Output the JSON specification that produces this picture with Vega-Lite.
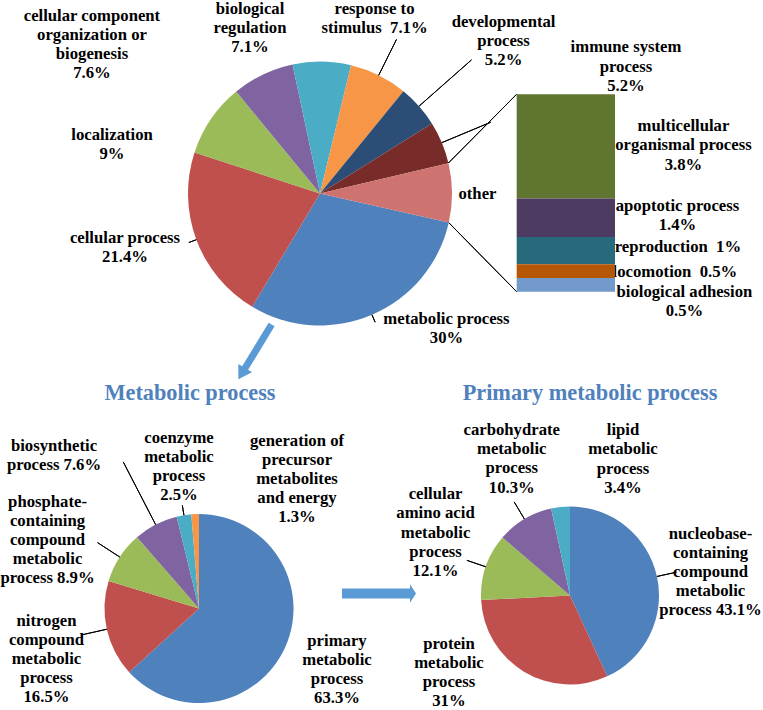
{
  "$schema": "https://vega.github.io/schema/vega-lite/v6.json",
  "padding": 0,
  "background": "white",
  "config": {
    "view": {"stroke": null},
    "text": {"font": "Liberation Serif", "fontWeight": "bold", "fontSize": 16.7, "lineHeight": 19.1, "lineBreak": "\n", "color": "#000", "align": "center", "baseline": "middle"}
  },
  "datasets": {
    "top": [
      {"i": 1, "cat": "metabolic process", "value": 30, "label": "metabolic process\n30%"},
      {"i": 2, "cat": "cellular process", "value": 21.4, "label": "cellular process\n21.4%"},
      {"i": 3, "cat": "localization", "value": 9, "label": "localization\n9%"},
      {"i": 4, "cat": "cellular component organization or biogenesis", "value": 7.6, "label": "cellular component\norganization or\nbiogenesis\n7.6%"},
      {"i": 5, "cat": "biological regulation", "value": 7.1, "label": "biological\nregulation\n7.1%"},
      {"i": 6, "cat": "response to stimulus", "value": 7.1, "label": "response to\nstimulus \u00a07.1%"},
      {"i": 7, "cat": "developmental process", "value": 5.2, "label": "developmental\nprocess\n5.2%"},
      {"i": 8, "cat": "immune system process", "value": 5.2, "label": "immune system\nprocess\n5.2%"},
      {"i": 9, "cat": "other", "value": 7.2, "label": "other"}
    ],
    "other": [
      {"i": 1, "cat": "multicellular organismal process", "value": 3.8, "label": "multicellular\norganismal process\n3.8%"},
      {"i": 2, "cat": "apoptotic process", "value": 1.4, "label": "apoptotic process\n1.4%"},
      {"i": 3, "cat": "reproduction", "value": 1, "label": "reproduction \u00a01%"},
      {"i": 4, "cat": "locomotion", "value": 0.5, "label": "locomotion \u00a00.5%"},
      {"i": 5, "cat": "biological adhesion", "value": 0.5, "label": "biological adhesion\n0.5%"}
    ],
    "bl": [
      {"i": 1, "cat": "primary metabolic process", "value": 63.3, "label": "primary\nmetabolic\nprocess\n63.3%"},
      {"i": 2, "cat": "nitrogen compound metabolic process", "value": 16.5, "label": "nitrogen\ncompound\nmetabolic\nprocess\n16.5%"},
      {"i": 3, "cat": "phosphate-containing compound metabolic process", "value": 8.9, "label": "phosphate-\ncontaining\ncompound\nmetabolic\nprocess 8.9%"},
      {"i": 4, "cat": "biosynthetic process", "value": 7.6, "label": "biosynthetic\nprocess 7.6%"},
      {"i": 5, "cat": "coenzyme metabolic process", "value": 2.5, "label": "coenzyme\nmetabolic\nprocess\n2.5%"},
      {"i": 6, "cat": "generation of precursor metabolites and energy", "value": 1.3, "label": "generation of\nprecursor\nmetabolites\nand energy\n1.3%"}
    ],
    "br": [
      {"i": 1, "cat": "nucleobase-containing compound metabolic process", "value": 43.1, "label": "nucleobase-\ncontaining\ncompound\nmetabolic\nprocess 43.1%"},
      {"i": 2, "cat": "protein metabolic process", "value": 31, "label": "protein\nmetabolic\nprocess\n31%"},
      {"i": 3, "cat": "cellular amino acid metabolic process", "value": 12.1, "label": "cellular\namino acid\nmetabolic\nprocess\n12.1%"},
      {"i": 4, "cat": "carbohydrate metabolic process", "value": 10.3, "label": "carbohydrate\nmetabolic\nprocess\n10.3%"},
      {"i": 5, "cat": "lipid metabolic process", "value": 3.4, "label": "lipid\nmetabolic\nprocess\n3.4%"}
    ],
    "one": [{}]
  },
  "bounds": "flush",
  "spacing": 120,
  "resolve": {"scale": {"color": "independent", "theta": "independent"}},
  "vconcat": [
    {
      "width": 640,
      "height": 385,
      "resolve": {"scale": {"color": "independent"}},
      "layer": [
        {
          "data": {"name": "top"},
          "mark": {"type": "arc", "radius": 132},
          "encoding": {
            "theta": {"field": "value", "type": "quantitative", "stack": true, "scale": {"range": [1.7924, 8.0756]}},
            "order": {"field": "i", "type": "quantitative"},
            "color": {"field": "cat", "type": "nominal", "legend": null, "scale": {"domain": ["metabolic process", "cellular process", "localization", "cellular component organization or biogenesis", "biological regulation", "response to stimulus", "developmental process", "immune system process", "other"], "range": ["#4F81BD", "#C0504D", "#9BBB59", "#8064A2", "#4BACC6", "#F79646", "#2C4D75", "#772C2A", "#CE7370"]}}
          }
        },
        {
          "data": {"name": "top"},
          "transform": [{"stack": "value", "groupby": [], "sort": [{"field": "i"}], "as": ["s", "e"]}, {"filter": "datum.i === 1 || datum.i === 2"}],
          "mark": {"type": "arc", "radius": 140, "radius2": 132, "padAngle": 3.1416, "filled": false, "stroke": "#000", "strokeWidth": 1},
          "encoding": {"theta": {"field": "s", "type": "quantitative", "scale": {"range": [1.7924, 8.0756]}}, "theta2": {"field": "e"}}
        },
        {
          "data": {"name": "top"},
          "transform": [{"stack": "value", "groupby": [], "sort": [{"field": "i"}], "as": ["s", "e"]}, {"filter": "datum.i === 6"}],
          "mark": {"type": "arc", "radius": 172, "radius2": 132, "padAngle": 3.1416, "filled": false, "stroke": "#000", "strokeWidth": 1},
          "encoding": {"theta": {"field": "s", "type": "quantitative", "scale": {"range": [1.7924, 8.0756]}}, "theta2": {"field": "e"}}
        },
        {
          "data": {"name": "top"},
          "transform": [{"stack": "value", "groupby": [], "sort": [{"field": "i"}], "as": ["s", "e"]}, {"filter": "datum.i === 7"}],
          "mark": {"type": "arc", "radius": 202, "radius2": 132, "padAngle": 3.1416, "filled": false, "stroke": "#000", "strokeWidth": 1},
          "encoding": {"theta": {"field": "s", "type": "quantitative", "scale": {"range": [1.7924, 8.0756]}}, "theta2": {"field": "e"}}
        },
        {
          "data": {"name": "top"},
          "transform": [{"stack": "value", "groupby": [], "sort": [{"field": "i"}], "as": ["s", "e"]}, {"filter": "datum.i === 8"}],
          "mark": {"type": "arc", "radius": 185, "radius2": 132, "padAngle": 3.1416, "filled": false, "stroke": "#000", "strokeWidth": 1},
          "encoding": {"theta": {"field": "s", "type": "quantitative", "scale": {"range": [1.7924, 8.0756]}}, "theta2": {"field": "e"}}
        },
        {
          "data": {"name": "one"},
          "mark": {"type": "arc", "theta": 3.9235, "theta2": 3.9235, "radius": 96.9, "radius2": 0, "filled": false, "stroke": "#000", "strokeWidth": 1},
          "encoding": {
            "x": {"datum": "other", "type": "nominal", "bandPosition": 0, "axis": null, "scale": {"type": "band", "paddingInner": 0.637, "paddingOuter": 1, "align": 0.95385}},
            "y": {"datum": 7.2, "type": "quantitative", "axis": null, "scale": {"domain": [-3.4355, 10.599], "nice": false, "zero": false}}
          }
        },
        {
          "data": {"name": "one"},
          "mark": {"type": "arc", "theta": 5.5065, "theta2": 5.5065, "radius": 96.7, "radius2": 0, "filled": false, "stroke": "#000", "strokeWidth": 1},
          "encoding": {
            "x": {"datum": "other", "type": "nominal", "bandPosition": 0, "axis": null, "scale": {"type": "band", "paddingInner": 0.637, "paddingOuter": 1, "align": 0.95385}},
            "y": {"datum": 0, "type": "quantitative", "axis": null, "scale": {"domain": [-3.4355, 10.599], "nice": false, "zero": false}}
          }
        },
        {
          "data": {"name": "other"},
          "mark": {"type": "text", "dx": 117.6, "dy": -20},
          "encoding": {
            "x": {"datum": "other", "type": "nominal", "axis": null, "scale": {"type": "band", "paddingInner": 0.637, "paddingOuter": 1, "align": 0.95385}},
            "y": {"field": "value", "type": "quantitative", "stack": "zero", "bandPosition": 0.5, "axis": null, "scale": {"domain": [-3.4355, 10.599], "nice": false, "zero": false}},
            "order": {"field": "i", "type": "quantitative", "sort": "descending"},
            "detail": {"field": "cat", "type": "nominal"},
            "text": {"condition": {"test": "datum.i === 1", "field": "label"}, "value": ""}
          }
        },
        {
          "data": {"name": "other"},
          "mark": {"type": "text", "dx": 111.6, "dy": -12},
          "encoding": {
            "x": {"datum": "other", "type": "nominal", "axis": null, "scale": {"type": "band", "paddingInner": 0.637, "paddingOuter": 1, "align": 0.95385}},
            "y": {"field": "value", "type": "quantitative", "stack": "zero", "bandPosition": 0.5, "axis": null, "scale": {"domain": [-3.4355, 10.599], "nice": false, "zero": false}},
            "order": {"field": "i", "type": "quantitative", "sort": "descending"},
            "detail": {"field": "cat", "type": "nominal"},
            "text": {"condition": {"test": "datum.i === 2", "field": "label"}, "value": ""}
          }
        },
        {
          "data": {"name": "other"},
          "mark": {"type": "text", "dx": 112.1, "dy": -4},
          "encoding": {
            "x": {"datum": "other", "type": "nominal", "axis": null, "scale": {"type": "band", "paddingInner": 0.637, "paddingOuter": 1, "align": 0.95385}},
            "y": {"field": "value", "type": "quantitative", "stack": "zero", "bandPosition": 0.5, "axis": null, "scale": {"domain": [-3.4355, 10.599], "nice": false, "zero": false}},
            "order": {"field": "i", "type": "quantitative", "sort": "descending"},
            "detail": {"field": "cat", "type": "nominal"},
            "text": {"condition": {"test": "datum.i === 3", "field": "label"}, "value": ""}
          }
        },
        {
          "data": {"name": "other"},
          "mark": {"type": "text", "dx": 109.1, "dy": 0.5},
          "encoding": {
            "x": {"datum": "other", "type": "nominal", "axis": null, "scale": {"type": "band", "paddingInner": 0.637, "paddingOuter": 1, "align": 0.95385}},
            "y": {"field": "value", "type": "quantitative", "stack": "zero", "bandPosition": 0.5, "axis": null, "scale": {"domain": [-3.4355, 10.599], "nice": false, "zero": false}},
            "order": {"field": "i", "type": "quantitative", "sort": "descending"},
            "detail": {"field": "cat", "type": "nominal"},
            "text": {"condition": {"test": "datum.i === 4", "field": "label"}, "value": ""}
          }
        },
        {
          "data": {"name": "other"},
          "mark": {"type": "text", "dx": 118.6, "dy": 6.8},
          "encoding": {
            "x": {"datum": "other", "type": "nominal", "axis": null, "scale": {"type": "band", "paddingInner": 0.637, "paddingOuter": 1, "align": 0.95385}},
            "y": {"field": "value", "type": "quantitative", "stack": "zero", "bandPosition": 0.5, "axis": null, "scale": {"domain": [-3.4355, 10.599], "nice": false, "zero": false}},
            "order": {"field": "i", "type": "quantitative", "sort": "descending"},
            "detail": {"field": "cat", "type": "nominal"},
            "text": {"condition": {"test": "datum.i === 5", "field": "label"}, "value": ""}
          }
        },
        {
          "data": {"name": "other"},
          "mark": {"type": "bar"},
          "encoding": {
            "x": {"datum": "other", "type": "nominal", "axis": null, "scale": {"type": "band", "paddingInner": 0.637, "paddingOuter": 1, "align": 0.95385}},
            "y": {"field": "value", "type": "quantitative", "stack": "zero", "axis": null, "scale": {"domain": [-3.4355, 10.599], "nice": false, "zero": false}},
            "order": {"field": "i", "type": "quantitative", "sort": "descending"},
            "color": {"field": "cat", "type": "nominal", "legend": null, "scale": {"domain": ["multicellular organismal process", "apoptotic process", "reproduction", "locomotion", "biological adhesion"], "range": ["#5F7530", "#4D3B62", "#276A7C", "#B65708", "#729ACA"]}}
          }
        },
        {"data": {"name": "top"}, "transform": [{"stack": "value", "groupby": [], "sort": [{"field": "i"}], "as": ["s", "e"]}, {"filter": "datum.i === 1"}],
         "mark": {"type": "text", "radius": 132, "dx": -2.3, "dy": 96.5}, "encoding": {"theta": {"field": "s", "type": "quantitative", "scale": {"range": [1.7924, 8.0756]}}, "text": {"field": "label"}}},
        {"data": {"name": "top"}, "transform": [{"stack": "value", "groupby": [], "sort": [{"field": "i"}], "as": ["s", "e"]}, {"filter": "datum.i === 2"}],
         "mark": {"type": "text", "radius": 132, "dx": -127.2, "dy": -69.2}, "encoding": {"theta": {"field": "s", "type": "quantitative", "scale": {"range": [1.7924, 8.0756]}}, "text": {"field": "label"}}},
        {"data": {"name": "top"}, "transform": [{"stack": "value", "groupby": [], "sort": [{"field": "i"}], "as": ["s", "e"]}, {"filter": "datum.i === 3"}],
         "mark": {"type": "text", "radius": 132, "dx": -82.5, "dy": -17.5}, "encoding": {"theta": {"field": "s", "type": "quantitative", "scale": {"range": [1.7924, 8.0756]}}, "text": {"field": "label"}}},
        {"data": {"name": "top"}, "transform": [{"stack": "value", "groupby": [], "sort": [{"field": "i"}], "as": ["s", "e"]}, {"filter": "datum.i === 4"}],
         "mark": {"type": "text", "radius": 132, "dx": -144.2, "dy": -75.5}, "encoding": {"theta": {"field": "s", "type": "quantitative", "scale": {"range": [1.7924, 8.0756]}}, "text": {"field": "label"}}},
        {"data": {"name": "top"}, "transform": [{"stack": "value", "groupby": [], "sort": [{"field": "i"}], "as": ["s", "e"]}, {"filter": "datum.i === 5"}],
         "mark": {"type": "text", "radius": 132, "dx": -42.5, "dy": -55.4}, "encoding": {"theta": {"field": "s", "type": "quantitative", "scale": {"range": [1.7924, 8.0756]}}, "text": {"field": "label"}}},
        {"data": {"name": "top"}, "transform": [{"stack": "value", "groupby": [], "sort": [{"field": "i"}], "as": ["s", "e"]}, {"filter": "datum.i === 6"}],
         "mark": {"type": "text", "radius": 132, "dx": 23.5, "dy": -56.2}, "encoding": {"theta": {"field": "s", "type": "quantitative", "scale": {"range": [1.7924, 8.0756]}}, "text": {"field": "label"}}},
        {"data": {"name": "top"}, "transform": [{"stack": "value", "groupby": [], "sort": [{"field": "i"}], "as": ["s", "e"]}, {"filter": "datum.i === 7"}],
         "mark": {"type": "text", "radius": 132, "dx": 100.1, "dy": -69.2}, "encoding": {"theta": {"field": "s", "type": "quantitative", "scale": {"range": [1.7924, 8.0756]}}, "text": {"field": "label"}}},
        {"data": {"name": "top"}, "transform": [{"stack": "value", "groupby": [], "sort": [{"field": "i"}], "as": ["s", "e"]}, {"filter": "datum.i === 8"}],
         "mark": {"type": "text", "radius": 132, "dx": 194.1, "dy": -76}, "encoding": {"theta": {"field": "s", "type": "quantitative", "scale": {"range": [1.7924, 8.0756]}}, "text": {"field": "label"}}},
        {"data": {"name": "top"}, "transform": [{"stack": "value", "groupby": [], "sort": [{"field": "i"}], "as": ["s", "e"]}, {"filter": "datum.i === 9"}],
         "mark": {"type": "text", "radius": 132, "dx": 29, "dy": 30.8}, "encoding": {"theta": {"field": "s", "type": "quantitative", "scale": {"range": [1.7924, 8.0756]}}, "text": {"field": "label"}}},
        {
          "data": {"name": "one"},
          "mark": {"type": "point", "shape": "M0,-32 L8,-19 L3.5,-19 L3.5,32 L-3.5,32 L-3.5,-19 L-8,-19 Z", "size": 4, "angle": 211.3, "filled": true, "color": "#5B9BD5", "opacity": 1, "strokeWidth": 0, "xOffset": -65, "yOffset": 158.3},
          "encoding": {}
        }
      ]
    },
    {
      "hconcat": [
        {
          "width": 398,
          "height": 205,
          "layer": [
            {
              "data": {"name": "bl"},
              "mark": {"type": "arc", "radius": 94.5},
              "encoding": {
                "theta": {"field": "value", "type": "quantitative", "stack": true},
                "order": {"field": "i", "type": "quantitative"},
                "color": {"field": "cat", "type": "nominal", "legend": null, "scale": {"domain": ["primary metabolic process", "nitrogen compound metabolic process", "phosphate-containing compound metabolic process", "biosynthetic process", "coenzyme metabolic process", "generation of precursor metabolites and energy"], "range": ["#4F81BD", "#C0504D", "#9BBB59", "#8064A2", "#4BACC6", "#F79646"]}}
              }
            },
            {
              "data": {"name": "bl"},
              "transform": [{"stack": "value", "groupby": [], "sort": [{"field": "i"}], "as": ["s", "e"]}, {"filter": "datum.i === 5"}],
              "mark": {"type": "arc", "radius": 104.5, "radius2": 94.5, "padAngle": 3.1416, "filled": false, "stroke": "#000", "strokeWidth": 1},
              "encoding": {"theta": {"field": "s", "type": "quantitative"}, "theta2": {"field": "e"}}
            },
            {
              "data": {"name": "bl"},
              "transform": [{"stack": "value", "groupby": [], "sort": [{"field": "i"}], "as": ["s", "e"]}, {"filter": "datum.i === 2 || datum.i === 3"}],
              "mark": {"type": "arc", "radius": 121, "radius2": 94.5, "padAngle": 3.1416, "filled": false, "stroke": "#000", "strokeWidth": 1},
              "encoding": {"theta": {"field": "s", "type": "quantitative"}, "theta2": {"field": "e"}}
            },
            {
              "data": {"name": "bl"},
              "transform": [{"stack": "value", "groupby": [], "sort": [{"field": "i"}], "as": ["s", "e"]}, {"filter": "datum.i === 4"}],
              "mark": {"type": "arc", "radius": 165, "radius2": 94.5, "padAngle": 3.1416, "filled": false, "stroke": "#000", "strokeWidth": 1},
              "encoding": {"theta": {"field": "s", "type": "quantitative"}, "theta2": {"field": "e"}}
            },
            {"data": {"name": "bl"}, "transform": [{"stack": "value", "groupby": [], "sort": [{"field": "i"}], "as": ["s", "e"]}, {"filter": "datum.i === 1"}],
             "mark": {"type": "text", "radius": 94.5, "dx": 138, "dy": 126.5}, "encoding": {"theta": {"field": "s", "type": "quantitative"}, "text": {"field": "label"}}},
            {"data": {"name": "bl"}, "transform": [{"stack": "value", "groupby": [], "sort": [{"field": "i"}], "as": ["s", "e"]}, {"filter": "datum.i === 2"}],
             "mark": {"type": "text", "radius": 94.5, "dx": -82.7, "dy": -51.2}, "encoding": {"theta": {"field": "s", "type": "quantitative"}, "text": {"field": "label"}}},
            {"data": {"name": "bl"}, "transform": [{"stack": "value", "groupby": [], "sort": [{"field": "i"}], "as": ["s", "e"]}, {"filter": "datum.i === 3"}],
             "mark": {"type": "text", "radius": 94.5, "dx": -61.1, "dy": -79.2}, "encoding": {"theta": {"field": "s", "type": "quantitative"}, "text": {"field": "label"}}},
            {"data": {"name": "bl"}, "transform": [{"stack": "value", "groupby": [], "sort": [{"field": "i"}], "as": ["s", "e"]}, {"filter": "datum.i === 4"}],
             "mark": {"type": "text", "radius": 94.5, "dx": -83, "dy": -91.2}, "encoding": {"theta": {"field": "s", "type": "quantitative"}, "text": {"field": "label"}}},
            {"data": {"name": "bl"}, "transform": [{"stack": "value", "groupby": [], "sort": [{"field": "i"}], "as": ["s", "e"]}, {"filter": "datum.i === 5"}],
             "mark": {"type": "text", "radius": 94.5, "dx": 2.3, "dy": -79}, "encoding": {"theta": {"field": "s", "type": "quantitative"}, "text": {"field": "label"}}},
            {"data": {"name": "bl"}, "transform": [{"stack": "value", "groupby": [], "sort": [{"field": "i"}], "as": ["s", "e"]}, {"filter": "datum.i === 6"}],
             "mark": {"type": "text", "radius": 94.5, "dx": 105.7, "dy": -73.3}, "encoding": {"theta": {"field": "s", "type": "quantitative"}, "text": {"field": "label"}}},
            {
              "data": {"name": "one"},
              "mark": {"type": "text", "text": "Metabolic process", "font": "Liberation Serif", "fontSize": 22.3, "fontWeight": "bold", "color": "#4F81BD", "align": "center", "baseline": "alphabetic", "dx": -9, "dy": -208.2},
              "encoding": {}
            }
          ]
        },
        {
          "width": 344,
          "height": 179,
          "layer": [
            {
              "data": {"name": "br"},
              "mark": {"type": "arc", "radius": 89},
              "encoding": {
                "theta": {"field": "value", "type": "quantitative", "stack": true},
                "order": {"field": "i", "type": "quantitative"},
                "color": {"field": "cat", "type": "nominal", "legend": null, "scale": {"domain": ["nucleobase-containing compound metabolic process", "protein metabolic process", "cellular amino acid metabolic process", "carbohydrate metabolic process", "lipid metabolic process"], "range": ["#4F81BD", "#C0504D", "#9BBB59", "#8064A2", "#4BACC6"]}}
              }
            },
            {
              "data": {"name": "br"},
              "transform": [{"stack": "value", "groupby": [], "sort": [{"field": "i"}], "as": ["s", "e"]}, {"filter": "datum.i === 1 || datum.i === 3 || datum.i === 4"}],
              "mark": {"type": "arc", "radius": 109, "radius2": 89, "padAngle": 3.1416, "filled": false, "stroke": "#000", "strokeWidth": 1},
              "encoding": {"theta": {"field": "s", "type": "quantitative"}, "theta2": {"field": "e"}}
            },
            {"data": {"name": "br"}, "transform": [{"stack": "value", "groupby": [], "sort": [{"field": "i"}], "as": ["s", "e"]}, {"filter": "datum.i === 1"}],
             "mark": {"type": "text", "radius": 89, "dx": 140.5, "dy": 27.2}, "encoding": {"theta": {"field": "s", "type": "quantitative"}, "text": {"field": "label"}}},
            {"data": {"name": "br"}, "transform": [{"stack": "value", "groupby": [], "sort": [{"field": "i"}], "as": ["s", "e"]}, {"filter": "datum.i === 2"}],
             "mark": {"type": "text", "radius": 89, "dx": -158.2, "dy": -32.6}, "encoding": {"theta": {"field": "s", "type": "quantitative"}, "text": {"field": "label"}}},
            {"data": {"name": "br"}, "transform": [{"stack": "value", "groupby": [], "sort": [{"field": "i"}], "as": ["s", "e"]}, {"filter": "datum.i === 3"}],
             "mark": {"type": "text", "radius": 89, "dx": -45.6, "dy": -105.8}, "encoding": {"theta": {"field": "s", "type": "quantitative"}, "text": {"field": "label"}}},
            {"data": {"name": "br"}, "transform": [{"stack": "value", "groupby": [], "sort": [{"field": "i"}], "as": ["s", "e"]}, {"filter": "datum.i === 4"}],
             "mark": {"type": "text", "radius": 89, "dx": 9.3, "dy": -107.3}, "encoding": {"theta": {"field": "s", "type": "quantitative"}, "text": {"field": "label"}}},
            {"data": {"name": "br"}, "transform": [{"stack": "value", "groupby": [], "sort": [{"field": "i"}], "as": ["s", "e"]}, {"filter": "datum.i === 5"}],
             "mark": {"type": "text", "radius": 89, "dx": 71.9, "dy": -78.2}, "encoding": {"theta": {"field": "s", "type": "quantitative"}, "text": {"field": "label"}}},
            {
              "data": {"name": "one"},
              "mark": {"type": "text", "text": "Primary metabolic process", "font": "Liberation Serif", "fontSize": 22.3, "fontWeight": "bold", "color": "#4F81BD", "align": "center", "baseline": "alphabetic", "dx": 20, "dy": -195.5},
              "encoding": {}
            },
            {
              "data": {"name": "one"},
              "mark": {"type": "point", "shape": "M37,0 L31,-9.2 L31,-5 L-37,-5 L-37,5 L31,5 L31,9.2 Z", "size": 4, "filled": true, "color": "#5B9BD5", "opacity": 1, "strokeWidth": 0, "xOffset": -191, "yOffset": -2},
              "encoding": {}
            }
          ]
        }
      ],
      "spacing": 0,
      "bounds": "flush",
      "resolve": {"scale": {"color": "independent", "theta": "independent"}}
    }
  ]
}
